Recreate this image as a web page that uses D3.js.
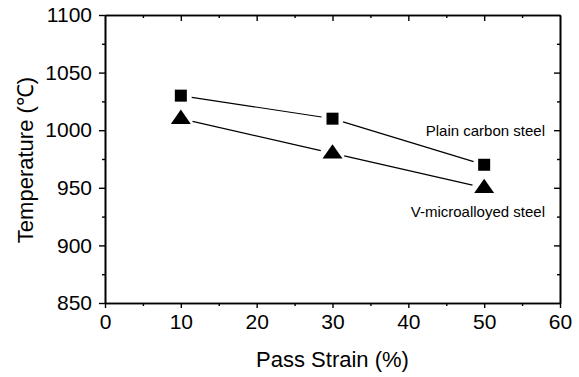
<!DOCTYPE html>
<html>
<head>
<meta charset="utf-8">
<script src="https://cdn.jsdelivr.net/npm/d3@7"></script>
<style>
  body { margin: 0; background: #fff; }
  svg { display: block; font-family: "Liberation Sans", Arial, sans-serif; }
</style>
</head>
<body>
<div id="chart"></div>
<script>
// pass strain (%) and the two steels' temperatures (C)
var strain = [10, 30, 50];
var plainCarbon = [1030, 1010, 970];
var vMicro = [1010, 980, 950];
var xTicks = [0, 10, 20, 30, 40, 50, 60];
var yTicks = [850, 900, 950, 1000, 1050, 1100];

var W = 579, H = 377;
var m = { left: 105, right: 19, top: 15, bottom: 74 };

var svg = d3.select("#chart").append("svg")
    .attr("width", W)
    .attr("height", H);

var x = d3.scaleLinear().domain([0, 60]).range([m.left, W - m.right]);
var y = d3.scaleLinear().domain([850, 1100]).range([H - m.bottom, m.top]);

var xMinor = d3.range(5, 60, 10);
var yMinor = d3.range(875, 1100, 50);

function styleAxis(g) {
  g.selectAll("path").style("stroke", "#000").style("stroke-width", 1.6);
  g.selectAll("line").style("stroke", "#000").style("stroke-width", 1.4);
  g.selectAll("text").style("font-size", "21px").style("fill", "#000");
}

// bottom axis, labelled
svg.append("g")
  .attr("transform", "translate(0," + y(850) + ")")
  .call(d3.axisBottom(x).tickValues(xTicks).tickSize(5).tickPadding(6).tickSizeOuter(0).tickFormat(d3.format("d")))
  .call(styleAxis);
svg.append("g")
  .attr("transform", "translate(0," + y(850) + ")")
  .call(d3.axisBottom(x).tickValues(xMinor).tickSize(3).tickFormat("").tickSizeOuter(0))
  .call(styleAxis);

// left axis, labelled
svg.append("g")
  .attr("transform", "translate(" + x(0) + ",0)")
  .call(d3.axisLeft(y).tickValues(yTicks).tickSize(6).tickPadding(7).tickSizeOuter(0).tickFormat(d3.format("d")))
  .call(styleAxis);
svg.append("g")
  .attr("transform", "translate(" + x(0) + ",0)")
  .call(d3.axisLeft(y).tickValues(yMinor).tickSize(3).tickFormat("").tickSizeOuter(0))
  .call(styleAxis);

// top axis, ticks pointing in
svg.append("g")
  .attr("transform", "translate(0," + y(1100) + ")")
  .call(d3.axisBottom(x).tickValues(xTicks.slice(1, -1)).tickSize(6).tickFormat("").tickSizeOuter(0))
  .call(styleAxis);
svg.append("g")
  .attr("transform", "translate(0," + y(1100) + ")")
  .call(d3.axisBottom(x).tickValues(xMinor).tickSize(3).tickFormat("").tickSizeOuter(0))
  .call(styleAxis);

// right axis, ticks pointing in
svg.append("g")
  .attr("transform", "translate(" + x(60) + ",0)")
  .call(d3.axisLeft(y).tickValues(yTicks.slice(1, -1)).tickSize(6).tickFormat("").tickSizeOuter(0))
  .call(styleAxis);
svg.append("g")
  .attr("transform", "translate(" + x(60) + ",0)")
  .call(d3.axisLeft(y).tickValues(yMinor).tickSize(3).tickFormat("").tickSizeOuter(0))
  .call(styleAxis);

// connecting lines, with a small gap at each marker
function drawSeries(vals, gap) {
  var pts = strain.map(function (s, i) { return [x(s), y(vals[i])]; });
  for (var i = 0; i < pts.length - 1; i++) {
    var a = pts[i], b = pts[i + 1];
    var dx = b[0] - a[0], dy = b[1] - a[1];
    var len = Math.sqrt(dx * dx + dy * dy);
    var ux = dx / len, uy = dy / len;
    svg.append("line")
      .attr("x1", a[0] + ux * gap).attr("y1", a[1] + uy * gap)
      .attr("x2", b[0] - ux * gap).attr("y2", b[1] - uy * gap)
      .style("stroke", "#000")
      .style("stroke-width", 1.2);
  }
}
drawSeries(plainCarbon, 11);
drawSeries(vMicro, 12);

svg.selectAll("rect.sq")
  .data(strain)
  .enter()
  .append("rect")
  .attr("class", "sq")
  .attr("x", function (d) { return x(d) - 6; })
  .attr("y", function (d, i) { return y(plainCarbon[i]) - 6; })
  .attr("width", 12)
  .attr("height", 12)
  .style("fill", "#000");

var tri = d3.symbol().type(d3.symbolTriangle).size(120);
svg.selectAll("path.tri")
  .data(strain)
  .enter()
  .append("path")
  .attr("class", "tri")
  .attr("d", tri)
  .attr("transform", function (d, i) { return "translate(" + x(d) + "," + (y(vMicro[i]) + 0.5) + ") scale(1.2,1)"; })
  .style("fill", "#000");

// series labels
svg.append("text")
  .attr("x", 545).attr("y", 136)
  .attr("text-anchor", "end")
  .style("font-size", "15px")
  .text("Plain carbon steel");
svg.append("text")
  .attr("x", 545).attr("y", 217)
  .attr("text-anchor", "end")
  .style("font-size", "15px")
  .text("V-microalloyed steel");

// axis titles
svg.append("text")
  .attr("x", (x(0) + x(60)) / 2).attr("y", 367)
  .attr("text-anchor", "middle")
  .style("font-size", "22px")
  .text("Pass Strain (%)");
svg.append("text")
  .attr("transform", "translate(33,160) rotate(-90)")
  .attr("text-anchor", "middle")
  .style("font-size", "22px")
  .text("Temperature (\u2103)");
</script>
</body>
</html>
